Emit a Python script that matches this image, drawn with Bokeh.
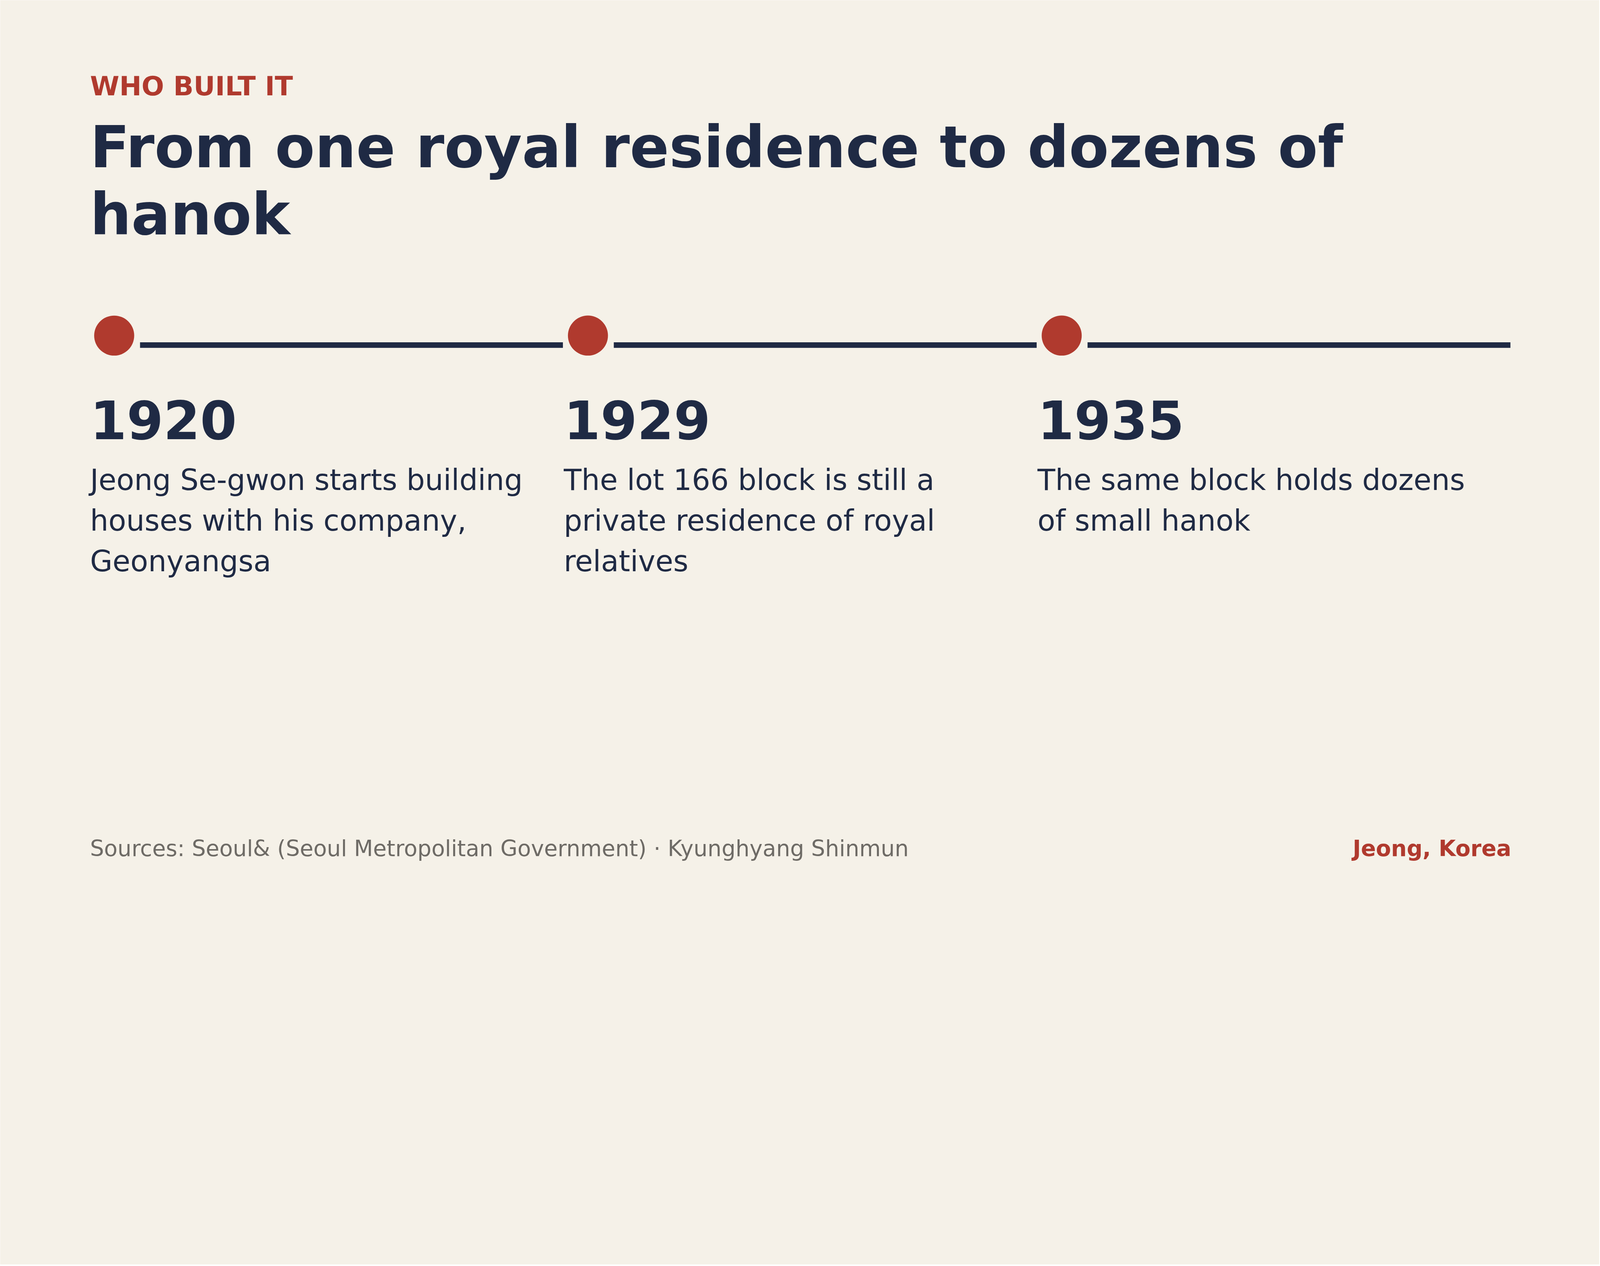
from bokeh.plotting import figure
from bokeh.models import ColumnDataSource, Label, Range1d
from bokeh.embed import file_html
from bokeh.resources import INLINE

# timeline content
years = ["1920", "1929", "1935"]
descriptions = [
    ["Jeong Se-gwon starts building", "houses with his company,", "Geonyangsa"],
    ["The lot 166 block is still a", "private residence of royal", "relatives"],
    ["The same block holds dozens", "of small hanok"],
]
kicker = "WHO BUILT IT"
title_lines = ["From one royal residence to dozens of", "hanok"]
source_note = "Sources: Seoul& (Seoul Metropolitan Government) \u00b7 Kyunghyang Shinmun"
credit = "Jeong, Korea"

BG = "#F5F1E8"
NAVY = "#1F2A44"
RED = "#B03A2E"
GREY = "#6E6B66"
FONT = "DejaVu Sans"

# layout measured in screenshot pixels; the page renders at ~1.4 device px per css px
DPR = 1.405
BASE_SHIFT = 0.346  # em, text lands this far below the requested baseline
ORIGIN = 0          # css px where the plot frame starts in the screenshot


def px(v):
    return v / DPR


def baseline(v, size):
    return px(v) - BASE_SHIFT * size


W, H = 4094, 3236
LEFT = px(323)      # css px of first column
COL_W = px(1704)    # css px per column

# x in column units, y in css pixels from the top of the screenshot
x0 = (ORIGIN - LEFT) / COL_W
x1 = (ORIGIN + W - LEFT) / COL_W

p = figure(width=W, height=H, output_backend="svg", toolbar_location=None,
           x_range=Range1d(x0, x1), y_range=Range1d(ORIGIN + H, ORIGIN),
           min_border=0, x_axis_type=None, y_axis_type=None)
p.grid.visible = False
p.outline_line_color = None
p.background_fill_color = BG
p.border_fill_color = BG

idx = list(range(len(years)))

# connecting rules
seg = ColumnDataSource(dict(x0=[i + px(180) / COL_W for i in idx],
                            x1=[i + px(1701) / COL_W for i in idx],
                            y=[px(1240)] * len(idx)))
p.segment(x0="x0", y0="y", x1="x1", y1="y", source=seg,
          line_color=NAVY, line_width=px(20), line_cap="butt")

# event dots
dots = ColumnDataSource(dict(x=[i + px(87) / COL_W for i in idx], y=[px(1206)] * len(idx)))
p.scatter(x="x", y="y", source=dots, size=px(144), fill_color=RED, line_color=None)

# years
YS = 135
yr = ColumnDataSource(dict(x=idx, y=[baseline(1574, YS)] * len(idx), t=years))
p.text(x="x", y="y", text="t", source=yr, text_font_size=f"{YS}px",
       text_font_style="bold", text_color=NAVY, text_baseline="alphabetic",
       text_font={"value": FONT})

# descriptions, one row per wrapped line
DS = 74.3
dx, dy, dt = [], [], []
for i, lines in enumerate(descriptions):
    for k, line in enumerate(lines):
        dx.append(i)
        dy.append(baseline(1762 + k * 145.5, DS))
        dt.append(line)
desc = ColumnDataSource(dict(x=dx, y=dy, t=dt))
p.text(x="x", y="y", text="t", source=desc, text_font_size=f"{DS}px",
       text_color=NAVY, text_baseline="alphabetic", text_font={"value": FONT})

# header
KS, TS = 68, 148.5
p.add_layout(Label(x=0, y=baseline(342, KS), text=kicker, text_font=FONT,
                   text_font_size=f"{KS}px", text_font_style="bold", text_color=RED,
                   text_baseline="alphabetic"))
for k, line in enumerate(title_lines):
    p.add_layout(Label(x=0, y=baseline(601 + k * 241, TS), text=line, text_font=FONT,
                       text_font_size=f"{TS}px", text_font_style="bold",
                       text_color=NAVY, text_baseline="alphabetic"))

# footer
FS = 56.5
p.add_layout(Label(x=0, y=baseline(3078, FS), text=source_note, text_font=FONT,
                   text_font_size=f"{FS}px", text_color=GREY, text_baseline="alphabetic"))
p.add_layout(Label(x=len(years), y=baseline(3078, FS), text=credit, text_font=FONT,
                   text_font_size=f"{FS}px", text_font_style="bold", text_color=RED,
                   text_align="right", text_baseline="alphabetic"))

open("out.html", "w").write(file_html(p, INLINE))
